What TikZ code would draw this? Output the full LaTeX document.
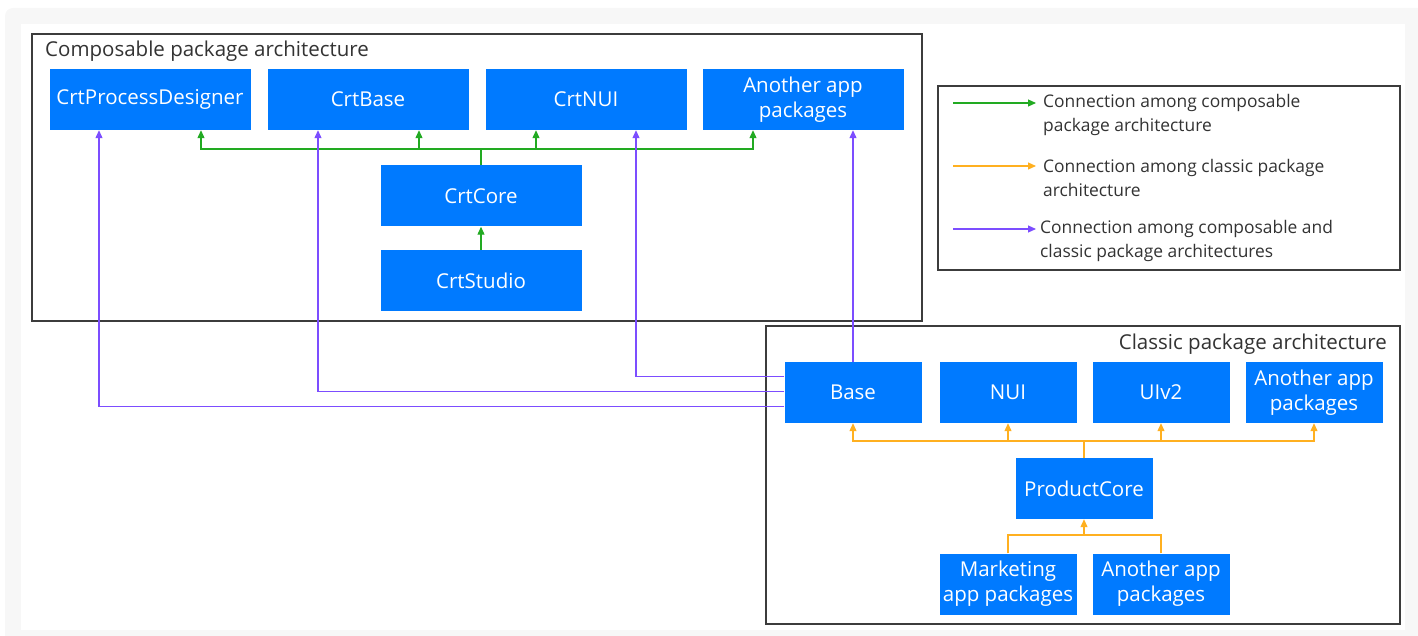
\documentclass[tikz,border=0pt]{standalone}
\usepackage{fontspec}
\setmainfont{Open Sans}
\usetikzlibrary{arrows.meta,calc}
\definecolor{boxblue}{RGB}{0,122,255}
\definecolor{cgreen}{RGB}{34,170,34}
\definecolor{corange}{RGB}{255,176,32}
\definecolor{cpurple}{RGB}{124,77,255}
\definecolor{bggray}{RGB}{247,247,247}
\definecolor{txtgray}{RGB}{51,51,51}
\definecolor{frame}{RGB}{60,60,60}
\tikzset{
  pkg/.style={fill=boxblue, draw=none, text=white, align=center, inner sep=0pt,
    font=\fontsize{20.5}{25}\selectfont},
  wide/.style={pkg, minimum width=201pt, minimum height=61pt},
  narrow/.style={pkg, minimum width=137pt, minimum height=61pt},
  areabox/.style={draw=frame, line width=1.1pt},
  tip/.style={-{Triangle[width=7pt,length=8pt]}},
  gline/.style={draw=cgreen, line width=1.1pt},
  oline/.style={draw=corange, line width=1.1pt},
  pline/.style={draw=cpurple, line width=1.1pt},
  stem/.style={line width=1.8pt},
  title/.style={text=txtgray, font=\fontsize{20.5}{24}\selectfont, inner sep=0pt},
  legtext/.style={text=txtgray, font=\fontsize{17.4}{24}\selectfont, align=left, inner sep=0pt}
}
\begin{document}
\begin{tikzpicture}[x=1pt,y=-1pt]
\useasboundingbox (0,0) rectangle (1418,636);
\fill[bggray, rounded corners=8pt] (5,8) rectangle (1430,648);
\fill[white] (21,24) rectangle (1405,630);

% area frames
\draw[areabox] (32,34) rectangle (922,321);
\draw[areabox] (766,326) rectangle (1400,624);
\node[title, anchor=west] (ctitle) at (45,51) {Composable package architecture};
\node[title, anchor=east] (ktitle) at (1387,344) {Classic package architecture};

% composable nodes
\node[wide] (cpd) at (150,99.5) {CrtProcessDesigner};
\node[wide] (cbase) at (368,99.5) {CrtBase};
\node[wide] (cnui) at (586,99.5) {CrtNUI};
\node[wide] (cano) at (803,99.5) {Another app\\packages};
\node[wide] (core) at (481,196) {CrtCore};
\node[wide] (studio) at (481,280.5) {CrtStudio};

% classic nodes
\node[narrow] (base) at (853,392.5) {Base};
\node[narrow] (nui) at (1008,392.5) {NUI};
\node[narrow] (uiv) at (1161,392.5) {UIv2};
\node[narrow] (kano) at (1314,392.5) {Another app\\packages};
\node[narrow] (pcore) at (1084,488.5) {ProductCore};
\node[narrow] (mkt) at (1008,584) {Marketing\\app packages};
\node[narrow] (kano2) at (1161,584) {Another app\\packages};

% green connections
\coordinate (gb) at (481,149);
\draw[gline, stem] (core.north) -- (gb);
\draw[gline, tip] (gb) -| ($(cpd.south)+(51,0)$);
\draw[gline, tip] (gb) -| ($(cbase.south)+(51,0)$);
\draw[gline, tip] (gb) -| ($(cnui.south)+(-50,0)$);
\draw[gline, tip] (gb) -| ($(cano.south)+(-50,0)$);
\draw[gline, tip] (studio.north) -- (core.south);

% orange connections
\coordinate (ob) at (1084,441);
\draw[oline, stem] (pcore.north) -- (ob);
\draw[oline, tip] (ob) -| (base.south);
\draw[oline, tip] (ob) -| (nui.south);
\draw[oline, tip] (ob) -| (uiv.south);
\draw[oline, tip] (ob) -| (kano.south);
\coordinate (obb) at (1084,535);
\draw[oline] (mkt.north) |- (obb);
\draw[oline] (kano2.north) |- (obb);
\draw[oline, tip] (obb) -- (pcore.south);

% purple connections
\draw[pline, tip] (base.north) -- (base.north |- cano.south);
\draw[pline, tip] ($(base.north west)+(0,15)$) -| ($(cnui.south)+(50,0)$);
\draw[pline, tip] ($(base.north west)+(0,30)$) -| ($(cbase.south)+(-50,0)$);
\draw[pline, tip] ($(base.north west)+(0,45)$) -| ($(cpd.south)+(-51,0)$);

% legend
\draw[areabox] (938,86) rectangle (1400,270);
\coordinate (l1a) at (953,103); \coordinate (l1b) at (1036,103);
\coordinate (l2a) at (953,166); \coordinate (l2b) at (1036,166);
\coordinate (l3a) at (953,229); \coordinate (l3b) at (1036,229);
\draw[gline, tip] (l1a) -- (l1b);
\draw[oline, tip] (l2a) -- (l2b);
\draw[pline, tip] (l3a) -- (l3b);
\node[legtext, anchor=west] (lt1) at (1043,115) {Connection among composable\\package architecture};
\node[legtext, anchor=west] (lt2) at (1043,178) {Connection among classic package\\architecture};
\node[legtext, anchor=west] (lt3) at (1040,241) {Connection among composable and\\classic package architectures};
\end{tikzpicture}
\end{document}
